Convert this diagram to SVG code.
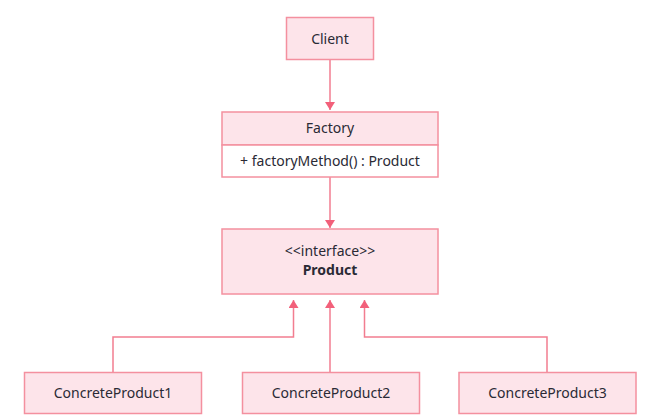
<svg xmlns="http://www.w3.org/2000/svg" width="657" height="417" viewBox="0 0 657 417">
<defs>
<style>
.box{fill:#fde4ea;stroke:#f4909f;stroke-width:1.5}
.body{fill:#ffffff;stroke:#f4909f;stroke-width:1.5}
.t{font-family:"Noto Sans","Open Sans",sans-serif;font-size:14px;fill:#2a2a35;text-anchor:middle}
.b{font-weight:bold}
.ln{fill:none;stroke:#f27d90;stroke-width:1.5}
</style>
<marker id="ah" viewBox="0 0 8 10" refX="8" refY="5" markerWidth="8" markerHeight="10" markerUnits="userSpaceOnUse" orient="auto">
<path d="M0,0 L8,5 L0,10 Z" fill="#f2607a"/>
</marker>
</defs>
<rect width="657" height="417" fill="#ffffff"/>
<g id="connectors">
<line class="ln" x1="330" y1="59" x2="330" y2="110" marker-end="url(#ah)"/>
<line class="ln" x1="330" y1="177" x2="330" y2="228" marker-end="url(#ah)"/>
<polyline class="ln" points="113,372 113,337 293.5,337 293.5,300" marker-end="url(#ah)"/>
<line class="ln" x1="330" y1="372" x2="330" y2="300" marker-end="url(#ah)"/>
<polyline class="ln" points="547,372 547,337 364.5,337 364.5,300" marker-end="url(#ah)"/>
</g>
<g id="client">
<rect class="box" x="286.5" y="17.5" width="87" height="42"/>
<text class="t" x="330" y="43.5">Client</text>
</g>
<g id="factory">
<rect class="box" x="222" y="112" width="216" height="33"/>
<rect class="body" x="222" y="145" width="216" height="32"/>
<text class="t" x="330" y="133">Factory</text>
<text class="t" x="330" y="166">+ factoryMethod() : Product</text>
</g>
<g id="product">
<rect class="box" x="222" y="229" width="216" height="65"/>
<text class="t" x="330" y="256">&lt;&lt;interface&gt;&gt;</text>
<text class="t b" x="330" y="275">Product</text>
</g>
<g id="concreteproduct1">
<rect class="box" x="24.5" y="372.5" width="177" height="41"/>
<text class="t" x="113" y="398">ConcreteProduct1</text>
</g>
<g id="concreteproduct2">
<rect class="box" x="242.5" y="372.5" width="177" height="41"/>
<text class="t" x="331" y="398">ConcreteProduct2</text>
</g>
<g id="concreteproduct3">
<rect class="box" x="459" y="372.5" width="177" height="41"/>
<text class="t" x="547.5" y="398">ConcreteProduct3</text>
</g>
</svg>
